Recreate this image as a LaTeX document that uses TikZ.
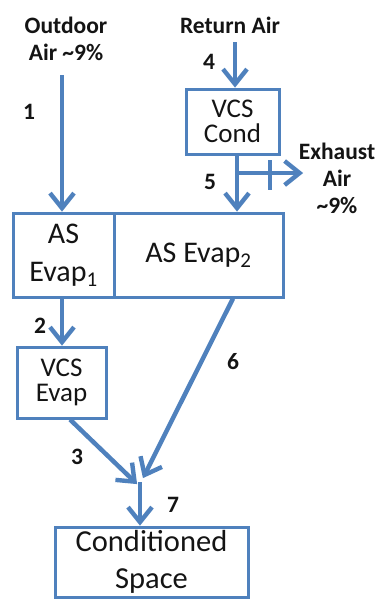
\documentclass[tikz,border=0pt]{standalone}
\usepackage{fontspec}
\setmainfont{Carlito}
\usetikzlibrary{arrows.meta}
\definecolor{flow}{RGB}{79,129,189}
\definecolor{ink}{RGB}{20,20,20}
\pgfdeclarearrow{
  name = Chev,
  parameters = {},
  setup code = {
    \pgfarrowssettipend{3.4pt}
    \pgfarrowssetlineend{-2pt}
    \pgfarrowssetbackend{-16pt}
    \pgfarrowshullpoint{3.4pt}{0pt}
    \pgfarrowsupperhullpoint{-16pt}{14pt}
  },
  drawing code = {
    \pgfsetlinewidth{4.4pt}
    \pgfsetmiterjoin
    \pgfsetbuttcap
    \pgfpathmoveto{\pgfqpoint{-15pt}{12pt}}
    \pgfpathlineto{\pgfqpoint{0pt}{0pt}}
    \pgfpathlineto{\pgfqpoint{-15pt}{-12pt}}
    \pgfusepathqstroke
  }
}
\begin{document}
\begin{tikzpicture}[x=1pt,y=-1pt,
  box/.style={draw=flow, line width=3pt, inner sep=0pt, align=center, text=ink},
  lbl/.style={font=\fontsize{23.5}{27}\selectfont\bfseries, text=ink, inner sep=0pt, align=center},
  flowarrow/.style={draw=flow, line width=4.5pt, -Chev},
  tickline/.style={draw=flow, line width=3.4pt}
]
\useasboundingbox (0,0) rectangle (375,600);
% boxes
\node[box, minimum width=101pt, minimum height=84pt, font=\fontsize{30}{38}\selectfont] (ase1) at (63.5,255) {AS\\Evap\textsubscript{1}};
\node[box, minimum width=169pt, minimum height=84pt, font=\fontsize{30}{38}\selectfont] (ase2) at (198.5,255) {AS Evap\textsubscript{2}};
\node[box, minimum width=93pt, minimum height=65pt, font=\fontsize{27}{25}\selectfont] (vcsc) at (232.5,121.5) {VCS\\Cond};
\node[box, minimum width=89pt, minimum height=71pt, font=\fontsize{27}{25}\selectfont] (vcse) at (61.5,382.5) {VCS\\Evap};
\node[box, minimum width=193pt, minimum height=70pt, font=\fontsize{30.5}{37}\selectfont] (cs) at (151.5,562) {Conditioned\\Space};
% text labels
\node[lbl] (outdoor) at (66,39) {Outdoor\\Air \textasciitilde9\%};
\node[lbl] (ret) at (230,25) {Return Air};
\node[lbl] (exh) at (337,178) {Exhaust\\Air\\\textasciitilde9\%};
\node[lbl] (n1) at (29,112) {1};
\node[lbl] (n4) at (209,62) {4};
\node[lbl] (n5) at (210,182) {5};
\node[lbl] (n2) at (40,326) {2};
\node[lbl] (n6) at (233,362) {6};
\node[lbl] (n3) at (77,457) {3};
\node[lbl] (n7) at (173,505) {7};
% coordinates
\coordinate (x1) at (62,75);
\coordinate (x4) at (235,42);
\coordinate (x5) at (237,0);
\coordinate (ex0) at (237,173);
\coordinate (ex1) at (303,173);
\coordinate (t1) at (270,160);
\coordinate (t2) at (270,190);
\coordinate (x2) at (62,0);
\coordinate (x6) at (233,0);
\coordinate (x3) at (70,0);
\coordinate (tip6) at (143,478);
\coordinate (tip3) at (137,484);
\coordinate (merge) at (140,482);
% connectors
\draw[flowarrow] (x1) -- (x1 |- ase1.north);
\draw[flowarrow] (x4) -- (x4 |- vcsc.north);
\draw[flowarrow] (x5 |- vcsc.south) -- (x5 |- ase2.north);
\draw[flowarrow] (ex0) -- (ex1);
\draw[tickline] (t1) -- (t2);
\draw[flowarrow] (x2 |- ase1.south) -- (x2 |- vcse.north);
\draw[flowarrow] (x6 |- ase2.south) -- (tip6);
\draw[flowarrow] (x3 |- vcse.south) -- (tip3);
\draw[flowarrow] (merge) -- (merge |- cs.north);
\end{tikzpicture}
\end{document}
